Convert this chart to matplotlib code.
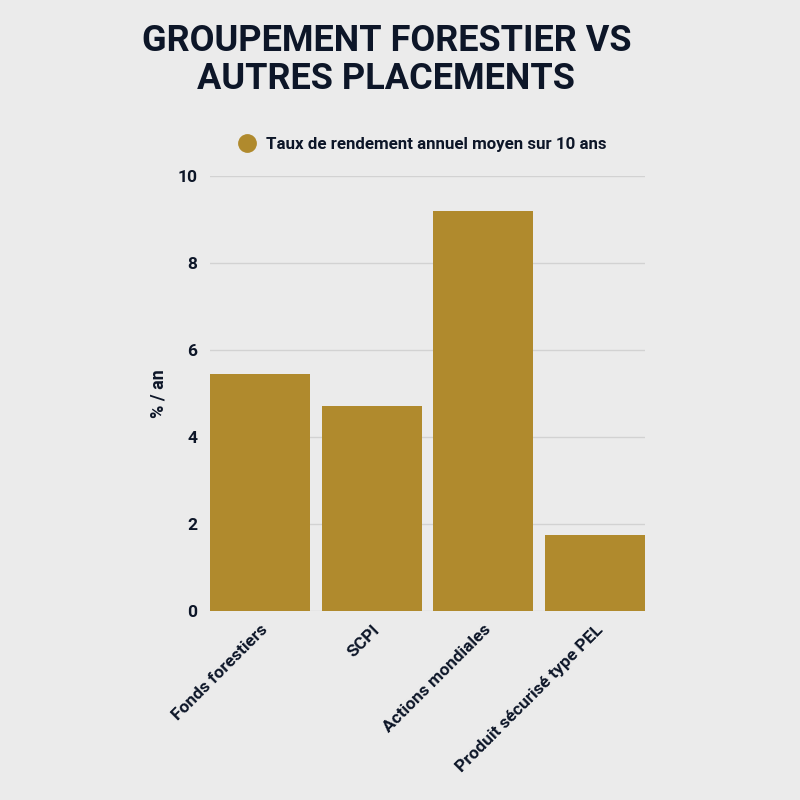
import matplotlib.pyplot as plt
from matplotlib.lines import Line2D

# Chart data
categories = ['Fonds forestiers', 'SCPI', 'Actions mondiales', 'Produit sécurisé type PEL']
rendement = [5.45, 4.71, 9.2, 1.75]
yticks = [0, 2, 4, 6, 8, 10]
series_name = 'Taux de rendement annuel moyen sur 10 ans'

bg = '#ebebeb'
gold = '#b08a2d'
navy = '#0d1628'

plt.rcParams['font.family'] = ['Roboto', 'DejaVu Sans']

fig = plt.figure(figsize=(8, 8), dpi=100, facecolor=bg)
ax = fig.add_axes([0.2625, 0.23625, 0.54375, 0.54375])
ax.set_facecolor(bg)

width = 0.895
x = list(range(len(categories)))
ax.bar(x, rendement, width=width, color=gold, zorder=3)
ax.set_xlim(-width / 2, len(categories) - 1 + width / 2)
ax.set_ylim(0, 10)

ax.set_yticks(yticks)
ax.set_yticklabels([str(t) for t in yticks], fontsize=12.5, fontweight='bold', color=navy)
ax.yaxis.grid(True, color='#d2d2d2', linewidth=1, zorder=0)
ax.tick_params(axis='both', length=0)
ax.tick_params(axis='y', pad=9)
ax.set_xticks(x)
ax.set_xticklabels(categories, rotation=45, ha='right', rotation_mode='anchor',
                   fontsize=12.5, fontweight='bold', color=navy)
ax.tick_params(axis='x', pad=8)
for s in ax.spines.values():
    s.set_visible(False)

ax.set_ylabel('% / an', fontsize=13, fontweight='bold', color=navy, labelpad=7)

fig.text(0.483, 0.925, 'GROUPEMENT FORESTIER VS\nAUTRES PLACEMENTS', ha='center', va='center',
         fontsize=26, fontweight='bold', color=navy, linespacing=1.05)

handle = Line2D([], [], marker='o', linestyle='', markersize=12.5, color=gold)
fig.legend([handle], [series_name], loc='center', bbox_to_anchor=(0.523, 0.82),
           frameon=False, handletextpad=0.1, labelcolor=navy,
           prop={'weight': 'bold', 'size': 12.2})

fig.savefig('out.png', dpi=100, facecolor=bg)
